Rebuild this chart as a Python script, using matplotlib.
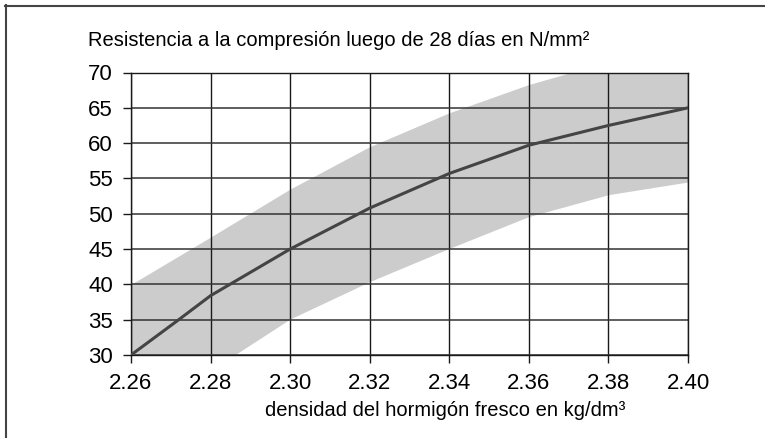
import numpy as np
import matplotlib
matplotlib.use('Agg')
from matplotlib import pyplot as plt
from matplotlib.lines import Line2D

plt.rcParams['font.family'] = ['Liberation Sans', 'DejaVu Sans']

# data
density = [2.26, 2.272, 2.28, 2.30, 2.32, 2.34, 2.36, 2.38, 2.40]
strength = [30, 35, 38.4, 45, 50.8, 55.7, 59.7, 62.5, 65]

band_x = [2.26, 2.28, 2.30, 2.32, 2.34, 2.36, 2.38, 2.40]
band_upper = [40, 46.7, 53.5, 59.5, 64.3, 68.3, 71.5, 74]
band_lower = [22, 27.8, 35.1, 40.4, 45.1, 49.6, 52.7, 54.5]

xticks = [2.26, 2.28, 2.30, 2.32, 2.34, 2.36, 2.38, 2.40]
yticks = [30, 35, 40, 45, 50, 55, 60, 65, 70]

fig = plt.figure(figsize=(7.65, 4.38), dpi=100)
ax = fig.add_axes([131/765, 1-355/438, (688-131)/765, (355-72.5)/438])

ax.fill_between(band_x, band_lower, band_upper, color='#cccccc', lw=0, zorder=1)
for x in xticks:
    ax.axvline(x, color='#1a1a1a', lw=1.0, zorder=2)
for y in yticks:
    ax.axhline(y, color='#333333', lw=1.1, zorder=2)
ax.plot(density, strength, color='#444444', lw=2.2, zorder=3)

ax.set_xlim(2.26, 2.40)
ax.set_ylim(30, 70)
ax.set_xticks(xticks)
ax.set_xticklabels(['%.2f' % v for v in xticks])
ax.set_yticks(yticks)
ax.tick_params(axis='both', direction='out', length=6, width=1, color='#1a1a1a',
               labelsize=16, pad=7)
for s in ax.spines.values():
    s.set_color('#1a1a1a')
    s.set_linewidth(1)

fig.text(88/765, 1-40/438, 'Resistencia a la compresión luego de 28 días en N/mm²',
         fontsize=14.5, va='center', ha='left')
fig.text(265/765, 1-411/438, 'densidad del hormigón fresco en kg/dm³',
         fontsize=14.5, va='center', ha='left')

# frame on left and top
fig.add_artist(Line2D([6/765, 6/765], [0, 1-5/438], transform=fig.transFigure,
                      color='#444444', lw=1.5))
fig.add_artist(Line2D([5/765, 1], [1-5.5/438, 1-5.5/438], transform=fig.transFigure,
                      color='#444444', lw=1.5))

fig.savefig('out.png', dpi=100)
